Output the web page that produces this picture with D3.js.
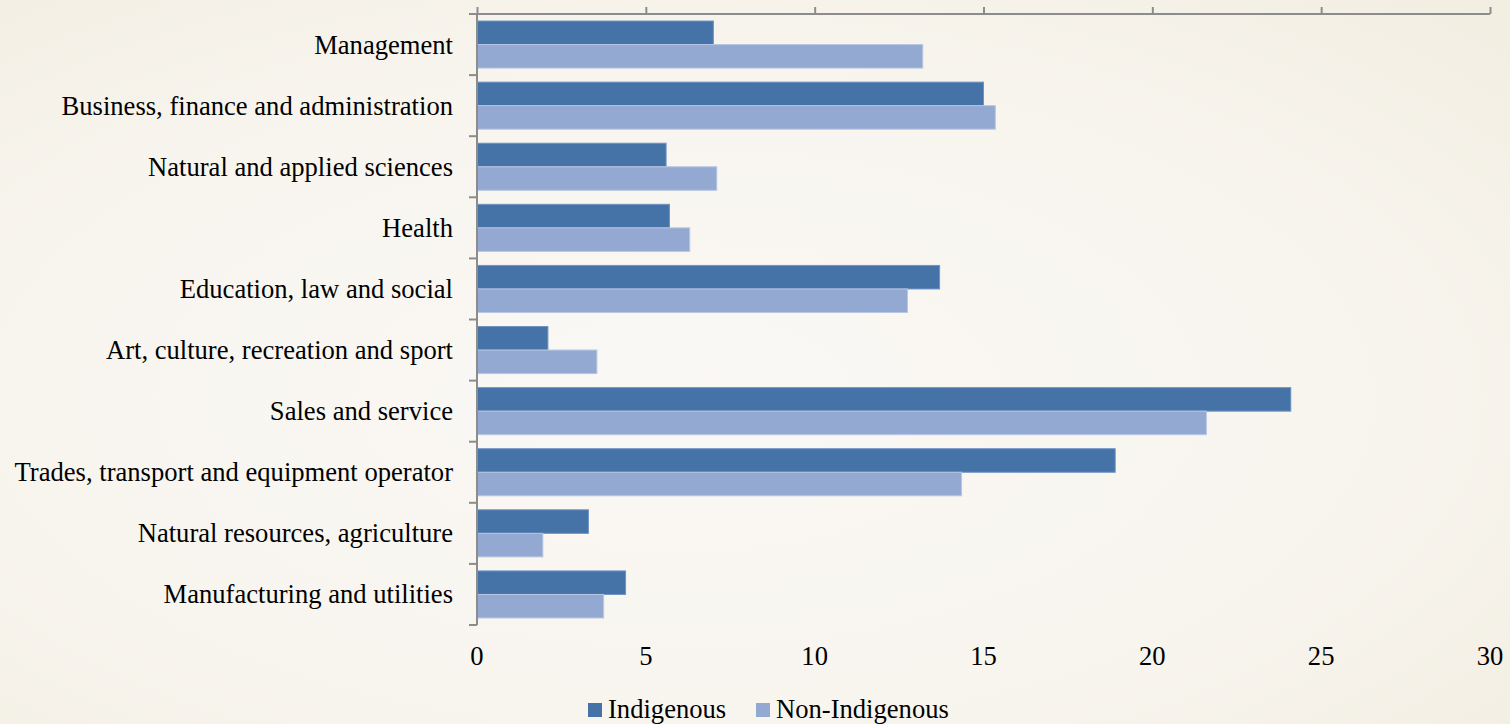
<!DOCTYPE html>
<html><head><meta charset="utf-8">
<script src="https://cdn.jsdelivr.net/npm/d3@7/dist/d3.min.js"></script>
<style>html,body{margin:0;padding:0;overflow:hidden;}</style>
</head><body>
<script>
const categories = ["Management","Business, finance and administration","Natural and applied sciences","Health","Education, law and social","Art, culture, recreation and sport","Sales and service","Trades, transport and equipment operator","Natural resources, agriculture","Manufacturing and utilities"];
const indigenous = [7.0, 15.0, 5.6, 5.7, 13.7, 2.1, 24.1, 18.9, 3.3, 4.4];
const nonIndigenous = [13.2, 15.35, 7.1, 6.3, 12.75, 3.55, 21.6, 14.35, 1.95, 3.75];
const seriesNames = ["Indigenous","Non-Indigenous"];
const xTicks = [0,5,10,15,20,25,30];

const W=1510,H=724;
const colors=["#4573a7","#94a9d1"];
const strokes=["#6f93c4","#b7c6e2"];
const svg=d3.select("body").append("svg").attr("width",W).attr("height",H);
const defs=svg.append("defs");
const rg=defs.append("radialGradient").attr("id","bg").attr("cx","45%").attr("cy","55%").attr("r","75%");
rg.append("stop").attr("offset","0%").attr("stop-color","#faf8f5");
rg.append("stop").attr("offset","60%").attr("stop-color","#f8f5ef");
rg.append("stop").attr("offset","100%").attr("stop-color","#f2eee2");
svg.append("rect").attr("width",W).attr("height",H).attr("fill","url(#bg)");

const pLeft=477,pRight=1490,pTop=14,pBottom=625;
const x=d3.scaleLinear().domain([0,30]).range([pLeft,pRight]);
const y=d3.scaleBand().domain(categories).range([pTop,pBottom]).paddingInner(0.23).paddingOuter(0.115);
const sub=d3.scaleBand().domain(seriesNames).range([0,y.bandwidth()]);

const font="'Liberation Serif','Times New Roman',serif";
const fs=26.6;
const axisColor="#8c8c8c";

// bars
const data=categories.map((c,i)=>({c,vals:[indigenous[i],nonIndigenous[i]]}));
const g=svg.append("g");
data.forEach(d=>{
  d.vals.forEach((v,j)=>{
    g.append("rect").attr("x",x(0)).attr("y",y(d.c)+sub(seriesNames[j]))
     .attr("width",x(v)-x(0)).attr("height",sub.bandwidth())
     .attr("fill",colors[j]).attr("stroke",strokes[j]).attr("stroke-width",1);
  });
});

// top axis
const xa=svg.append("g").attr("transform",`translate(0,${pTop})`)
  .call(d3.axisTop(x).tickValues(xTicks).tickSize(7).tickFormat(""));
xa.select(".domain").attr("stroke",axisColor).attr("stroke-width",2).attr("d",`M${pLeft-8},0H${pRight}`);
xa.selectAll(".tick line").attr("stroke",axisColor).attr("stroke-width",2);

// left axis
const step=(pBottom-pTop)/categories.length;
const boundaries=d3.range(categories.length+1).map(i=>pTop+i*step);
svg.append("line").attr("x1",pLeft).attr("x2",pLeft).attr("y1",pTop).attr("y2",pBottom).attr("stroke",axisColor).attr("stroke-width",2);
svg.selectAll(".ytick").data(boundaries).enter().append("line")
  .attr("x1",pLeft-8).attr("x2",pLeft).attr("y1",d=>d).attr("y2",d=>d).attr("stroke",axisColor).attr("stroke-width",2);

// category labels
svg.selectAll(".cl").data(categories).enter().append("text")
  .attr("x",453).attr("y",d=>y(d)+y.bandwidth()/2+9)
  .attr("text-anchor","end").attr("font-family",font).attr("font-size",fs).attr("fill","#000").text(d=>d);

// x tick labels
svg.selectAll(".xl").data(xTicks).enter().append("text")
  .attr("x",d=>x(d)).attr("y",665).attr("text-anchor","middle")
  .attr("font-family",font).attr("font-size",fs).attr("fill","#000").text(d=>d);

// legend
const leg=svg.append("g");
const lx=[588,756];
seriesNames.forEach((s,i)=>{
  leg.append("rect").attr("x",lx[i]).attr("y",703).attr("width",14).attr("height",14).attr("fill",colors[i]);
  leg.append("text").attr("x",lx[i]+20).attr("y",718).attr("font-family",font).attr("font-size",fs).attr("fill","#000").text(s);
});
</script>
</body></html>
